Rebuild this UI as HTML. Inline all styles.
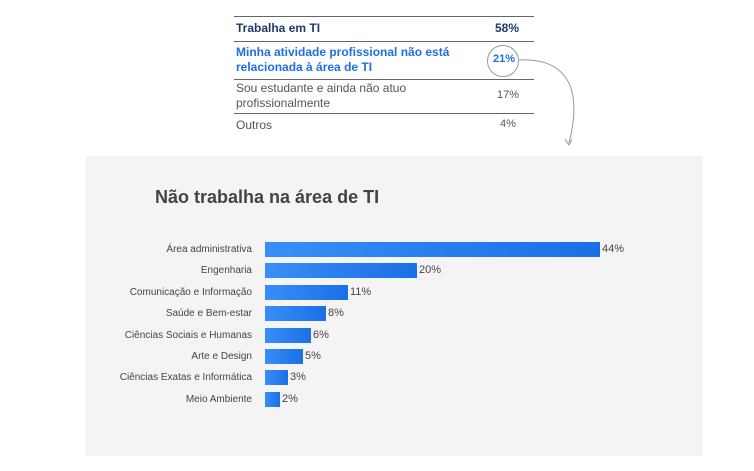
<!DOCTYPE html><html><head><style>
body{margin:0;width:754px;height:471px;background:#fff;font-family:"Liberation Sans",sans-serif;position:relative;overflow:hidden}
.a{position:absolute;white-space:nowrap}
.ln{position:absolute;left:234px;width:300px;height:1px;background:#666}
.lab{position:absolute;right:502px;font-size:10px;color:#444;text-align:right;white-space:nowrap}
.bar{position:absolute;left:265px;height:15px;background:linear-gradient(90deg,#3a8ef8,#1a6fe6)}
.v{position:absolute;font-size:11px;color:#444}
</style></head><body>
<div class="ln" style="top:16px"></div>
<div class="ln" style="top:41px"></div>
<div class="ln" style="top:79px"></div>
<div class="ln" style="top:113px"></div>
<div class="a" style="left:236px;top:21px;font-size:12px;font-weight:bold;color:#1d3a6e">Trabalha em TI</div>
<div class="a" style="left:495px;top:21px;font-size:12px;font-weight:bold;color:#1d3a6e">58%</div>
<div class="a" style="left:236px;top:45px;font-size:12px;font-weight:bold;color:#1f6fe0;line-height:15px">Minha atividade profissional não está<br>relacionada à área de TI</div>
<div class="a" style="left:493px;top:53px;font-size:11px;font-weight:bold;color:#1f6fe0">21%</div>
<div class="a" style="left:487px;top:45px;width:30px;height:30px;border:1px solid #999;border-radius:50%"></div>
<div class="a" style="left:236px;top:81px;font-size:12px;color:#555;line-height:15px">Sou estudante e ainda não atuo<br>profissionalmente</div>
<div class="a" style="left:497px;top:89px;font-size:11px;color:#555">17%</div>
<div class="a" style="left:236px;top:118px;font-size:12px;color:#555">Outros</div>
<div class="a" style="left:500px;top:118px;font-size:11px;color:#555">4%</div>
<svg class="a" style="left:0;top:0" width="754" height="160"><path d="M519 60 C560 58 585 80 569 143" fill="none" stroke="#999" stroke-width="1"/><path d="M565 139 L569 145 L572 139" fill="none" stroke="#999"/></svg>
<div class="a" style="left:86px;top:156px;width:617px;height:300px;background:#f4f4f4"></div>
<div class="a" style="left:155px;top:187px;font-size:18px;font-weight:bold;color:#444">Não trabalha na área de TI</div>
<div class="lab" style="top:244px">Área administrativa</div><div class="bar" style="top:242px;width:335px"></div><div class="v" style="left:602px;top:243px">44%</div>
<div class="lab" style="top:265px">Engenharia</div><div class="bar" style="top:263px;width:152px"></div><div class="v" style="left:419px;top:264px">20%</div>
<div class="lab" style="top:287px">Comunicação e Informação</div><div class="bar" style="top:285px;width:83px"></div><div class="v" style="left:350px;top:286px">11%</div>
<div class="lab" style="top:308px">Saúde e Bem-estar</div><div class="bar" style="top:306px;width:61px"></div><div class="v" style="left:328px;top:307px">8%</div>
<div class="lab" style="top:330px">Ciências Sociais e Humanas</div><div class="bar" style="top:328px;width:46px"></div><div class="v" style="left:313px;top:329px">6%</div>
<div class="lab" style="top:351px">Arte e Design</div><div class="bar" style="top:349px;width:38px"></div><div class="v" style="left:305px;top:350px">5%</div>
<div class="lab" style="top:372px">Ciências Exatas e Informática</div><div class="bar" style="top:370px;width:23px"></div><div class="v" style="left:290px;top:371px">3%</div>
<div class="lab" style="top:394px">Meio Ambiente</div><div class="bar" style="top:392px;width:15px"></div><div class="v" style="left:282px;top:393px">2%</div>
</body></html>
